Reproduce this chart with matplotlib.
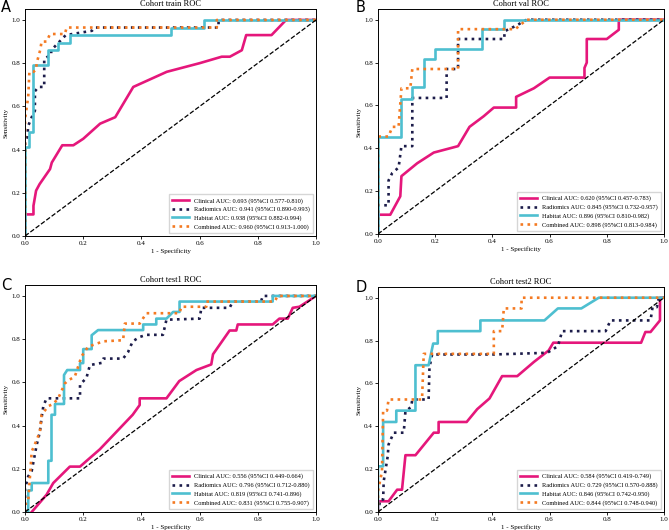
import matplotlib
matplotlib.use("Agg")
import matplotlib.pyplot as plt

# ---------------- data ----------------
train_clin_x = [0, 0, 0.029, 0.029, 0.038, 0.05, 0.086, 0.092, 0.128, 0.166, 0.2, 0.258, 0.31, 0.372, 0.487, 0.6, 0.676, 0.704, 0.745, 0.76, 0.847, 0.897, 1]
train_clin_y = [0, 0.1, 0.1, 0.14, 0.21, 0.24, 0.31, 0.34, 0.42, 0.42, 0.45, 0.52, 0.55, 0.69, 0.76, 0.80, 0.83, 0.83, 0.86, 0.93, 0.93, 1.0, 1.0]
train_rad_x = [0, 0, 0.008, 0.011, 0.023, 0.034, 0.034, 0.046, 0.066, 0.066, 0.09, 0.09, 0.14, 0.23, 0.24, 0.665, 0.665, 1]
train_rad_y = [0, 0.44, 0.46, 0.51, 0.55, 0.58, 0.67, 0.69, 0.69, 0.82, 0.84, 0.86, 0.93, 0.95, 0.965, 0.965, 1.0, 1.0]
train_hab_x = [0, 0, 0.015, 0.015, 0.026, 0.026, 0.08, 0.08, 0.115, 0.115, 0.155, 0.155, 0.5, 0.5, 0.615, 0.615, 1]
train_hab_y = [0, 0.41, 0.41, 0.48, 0.48, 0.79, 0.79, 0.86, 0.86, 0.895, 0.895, 0.93, 0.93, 0.965, 0.965, 1.0, 1.0]
train_com_x = [0, 0, 0.011, 0.015, 0.029, 0.038, 0.04, 0.052, 0.057, 0.074, 0.086, 0.137, 0.143, 0.659, 0.659, 1]
train_com_y = [0, 0.54, 0.645, 0.76, 0.76, 0.77, 0.80, 0.86, 0.90, 0.90, 0.935, 0.935, 0.965, 0.965, 1.0, 1.0]

val_clin_x = [0, 0, 0.043, 0.078, 0.082, 0.137, 0.195, 0.28, 0.32, 0.37, 0.405, 0.483, 0.483, 0.545, 0.6, 0.722, 0.722, 0.73, 0.73, 0.8, 0.842, 0.842, 1]
val_clin_y = [0, 0.09, 0.09, 0.176, 0.27, 0.33, 0.38, 0.41, 0.50, 0.55, 0.59, 0.59, 0.64, 0.68, 0.73, 0.73, 0.775, 0.80, 0.91, 0.91, 0.953, 1.0, 1.0]
val_rad_x = [0, 0, 0.037, 0.037, 0.05, 0.072, 0.082, 0.12, 0.12, 0.24, 0.24, 0.28, 0.28, 0.442, 0.442, 0.48, 0.52, 1]
val_rad_y = [0, 0.134, 0.134, 0.25, 0.285, 0.31, 0.41, 0.41, 0.635, 0.635, 0.77, 0.77, 0.91, 0.91, 0.946, 0.97, 1.0, 1.0]
val_hab_x = [0, 0, 0.082, 0.082, 0.12, 0.12, 0.162, 0.162, 0.2, 0.2, 0.362, 0.362, 0.442, 0.442, 1]
val_hab_y = [0, 0.455, 0.455, 0.63, 0.63, 0.686, 0.686, 0.817, 0.817, 0.863, 0.863, 0.956, 0.956, 1.0, 1.0]
val_com_x = [0, 0, 0.037, 0.05, 0.072, 0.082, 0.113, 0.12, 0.28, 0.28, 0.48, 0.52, 1]
val_com_y = [0, 0.455, 0.455, 0.50, 0.50, 0.68, 0.68, 0.77, 0.77, 0.956, 0.956, 1.0, 1.0]

t1_clin_x = [0.023, 0.074, 0.097, 0.154, 0.189, 0.257, 0.37, 0.394, 0.394, 0.486, 0.53, 0.589, 0.64, 0.646, 0.703, 0.726, 0.731, 0.851, 0.874, 0.903, 0.92, 0.943, 1.0]
t1_clin_y = [0, 0.08, 0.134, 0.21, 0.21, 0.29, 0.45, 0.495, 0.526, 0.526, 0.606, 0.657, 0.683, 0.73, 0.84, 0.84, 0.868, 0.868, 0.895, 0.895, 0.945, 0.95, 1.0]
t1_rad_x = [0, 0, 0.011, 0.023, 0.04, 0.051, 0.057, 0.063, 0.074, 0.189, 0.189, 0.211, 0.223, 0.263, 0.269, 0.337, 0.354, 0.37, 0.394, 0.417, 0.474, 0.486, 0.6, 0.606, 0.703, 0.714, 0.811, 0.817, 1]
t1_rad_y = [0, 0.108, 0.165, 0.19, 0.31, 0.37, 0.437, 0.49, 0.526, 0.526, 0.59, 0.62, 0.68, 0.69, 0.71, 0.71, 0.74, 0.79, 0.81, 0.82, 0.82, 0.89, 0.895, 0.945, 0.945, 0.974, 0.974, 1.0, 1.0]
t1_hab_x = [0, 0.011, 0.011, 0.023, 0.023, 0.08, 0.08, 0.091, 0.091, 0.103, 0.103, 0.134, 0.134, 0.145, 0.189, 0.189, 0.2, 0.2, 0.229, 0.229, 0.251, 0.406, 0.406, 0.451, 0.451, 0.486, 0.509, 0.531, 0.531, 0.851, 0.851, 1]
t1_hab_y = [0, 0, 0.1, 0.1, 0.134, 0.134, 0.237, 0.237, 0.45, 0.45, 0.5, 0.5, 0.634, 0.657, 0.657, 0.689, 0.689, 0.754, 0.754, 0.818, 0.842, 0.842, 0.868, 0.868, 0.895, 0.895, 0.926, 0.926, 0.974, 0.974, 1.0, 1.0]
t1_com_x = [0, 0, 0.011, 0.023, 0.034, 0.051, 0.057, 0.08, 0.097, 0.114, 0.137, 0.149, 0.171, 0.194, 0.217, 0.269, 0.337, 0.343, 0.394, 0.417, 0.531, 0.537, 0.623, 0.623, 0.857, 0.869, 1]
t1_com_y = [0, 0.034, 0.05, 0.28, 0.314, 0.37, 0.45, 0.49, 0.50, 0.526, 0.595, 0.61, 0.626, 0.72, 0.765, 0.79, 0.795, 0.872, 0.872, 0.92, 0.92, 0.95, 0.95, 0.974, 0.974, 1.0, 1.0]

t2_clin_x = [0, 0, 0.037, 0.067, 0.084, 0.096, 0.131, 0.195, 0.212, 0.212, 0.31, 0.347, 0.39, 0.434, 0.487, 0.545, 0.597, 0.613, 0.92, 0.935, 0.953, 0.986, 0.986, 1]
t2_clin_y = [0, 0.05, 0.05, 0.104, 0.104, 0.265, 0.265, 0.37, 0.37, 0.42, 0.42, 0.48, 0.53, 0.634, 0.634, 0.70, 0.754, 0.79, 0.79, 0.84, 0.84, 0.894, 1.0, 1.0]
t2_rad_x = [0, 0.008, 0.018, 0.02, 0.034, 0.037, 0.055, 0.09, 0.096, 0.116, 0.12, 0.177, 0.18, 0.189, 0.405, 0.592, 0.629, 0.644, 0.796, 0.813, 0.953, 0.96, 0.975, 0.982, 1]
t2_rad_y = [0, 0.058, 0.058, 0.143, 0.26, 0.315, 0.37, 0.37, 0.47, 0.49, 0.525, 0.525, 0.673, 0.735, 0.735, 0.743, 0.774, 0.844, 0.844, 0.894, 0.894, 0.956, 0.956, 1.0, 1.0]
t2_hab_x = [0, 0, 0.018, 0.018, 0.064, 0.064, 0.131, 0.131, 0.177, 0.193, 0.209, 0.209, 0.358, 0.358, 0.582, 0.629, 0.711, 0.772, 1]
t2_hab_y = [0, 0.213, 0.213, 0.42, 0.42, 0.473, 0.473, 0.685, 0.685, 0.786, 0.786, 0.844, 0.844, 0.894, 0.894, 0.95, 0.95, 1.0, 1.0]
t2_com_x = [0, 0, 0.014, 0.018, 0.0315, 0.037, 0.154, 0.16, 0.405, 0.405, 0.434, 0.44, 0.502, 0.502, 1]
t2_com_y = [0, 0.097, 0.19, 0.473, 0.473, 0.525, 0.525, 0.738, 0.738, 0.844, 0.844, 0.95, 0.95, 1.0, 1.0]

titles = ["Cohort train ROC", "Cohort val ROC", "Cohort test1 ROC", "Cohort test2 ROC"]
letters = ["A", "B", "C", "D"]
labels = [
    ["Clinical AUC: 0.693 (95%CI 0.577-0.810)", "Radiomics AUC: 0.941 (95%CI 0.890-0.993)",
     "Habitat AUC: 0.938 (95%CI 0.882-0.994)", "Combined AUC: 0.960 (95%CI 0.913-1.000)"],
    ["Clinical AUC: 0.620 (95%CI 0.457-0.783)", "Radiomics AUC: 0.845 (95%CI 0.732-0.957)",
     "Habitat AUC: 0.896 (95%CI 0.810-0.982)", "Combined AUC: 0.898 (95%CI 0.813-0.984)"],
    ["Clinical AUC: 0.556 (95%CI 0.449-0.664)", "Radiomics AUC: 0.796 (95%CI 0.712-0.880)",
     "Habitat AUC: 0.819 (95%CI 0.741-0.896)", "Combined AUC: 0.831 (95%CI 0.755-0.907)"],
    ["Clinical AUC: 0.584 (95%CI 0.419-0.749)", "Radiomics AUC: 0.729 (95%CI 0.570-0.888)",
     "Habitat AUC: 0.846 (95%CI 0.742-0.950)", "Combined AUC: 0.844 (95%CI 0.748-0.940)"],
]
curves = [
    [(train_clin_x, train_clin_y), (train_rad_x, train_rad_y), (train_hab_x, train_hab_y), (train_com_x, train_com_y)],
    [(val_clin_x, val_clin_y), (val_rad_x, val_rad_y), (val_hab_x, val_hab_y), (val_com_x, val_com_y)],
    [(t1_clin_x, t1_clin_y), (t1_rad_x, t1_rad_y), (t1_hab_x, t1_hab_y), (t1_com_x, t1_com_y)],
    [(t2_clin_x, t2_clin_y), (t2_rad_x, t2_rad_y), (t2_hab_x, t2_hab_y), (t2_com_x, t2_com_y)],
]

colors = ["#E5177B", "#1C1C4A", "#4EBFD0", "#F47A22"]
styles = ["-", ":", "-", ":"]

# axes boxes in figure fractions (left, bottom, width, height)
boxes = [
    (0.0374, 0.5547, 0.435, 0.428),
    (0.565, 0.5585, 0.4275, 0.4245),
    (0.0374, 0.034, 0.435, 0.428),
    (0.565, 0.034, 0.4275, 0.4245),
]
letter_pos = [(0.002, 0.977), (0.532, 0.977), (0.002, 0.452), (0.532, 0.450)]

plt.rcParams['font.family'] = ['Liberation Serif', 'DejaVu Serif']
fig = plt.figure(figsize=(6.69, 5.30), dpi=100)

for i in range(4):
    ax = fig.add_axes(boxes[i])
    for j in range(4):
        x, y = curves[i][j]
        ax.plot(x, y, color=colors[j], linestyle=styles[j], lw=1.9, label=labels[i][j])
    ax.plot([0, 1], [0, 1], color="black", linestyle="--", lw=0.9)
    ax.set_xlim(0, 1)
    ax.set_ylim(0, 1.05)
    ax.set_xticks([0, 0.2, 0.4, 0.6, 0.8, 1.0])
    ax.set_yticks([0, 0.2, 0.4, 0.6, 0.8, 1.0])
    ax.tick_params(labelsize=5, length=2, width=0.6, pad=1.5)
    for s in ax.spines.values():
        s.set_linewidth(0.7)
    ax.set_title(titles[i], fontsize=6, pad=2)
    ax.set_xlabel("1 - Specificity", fontsize=5, labelpad=2)
    ax.set_ylabel("Sensitivity", fontsize=5, labelpad=2)
    ax.legend(loc="lower right", fontsize=4.6, frameon=True, fancybox=False,
              edgecolor="#cccccc", handlelength=2.6, borderpad=0.5, labelspacing=0.45)
    fig.text(letter_pos[i][0], letter_pos[i][1], letters[i], fontsize=10.5,
             family="DejaVu Sans", va="baseline", ha="left")

fig.savefig("out.png", dpi=100)
